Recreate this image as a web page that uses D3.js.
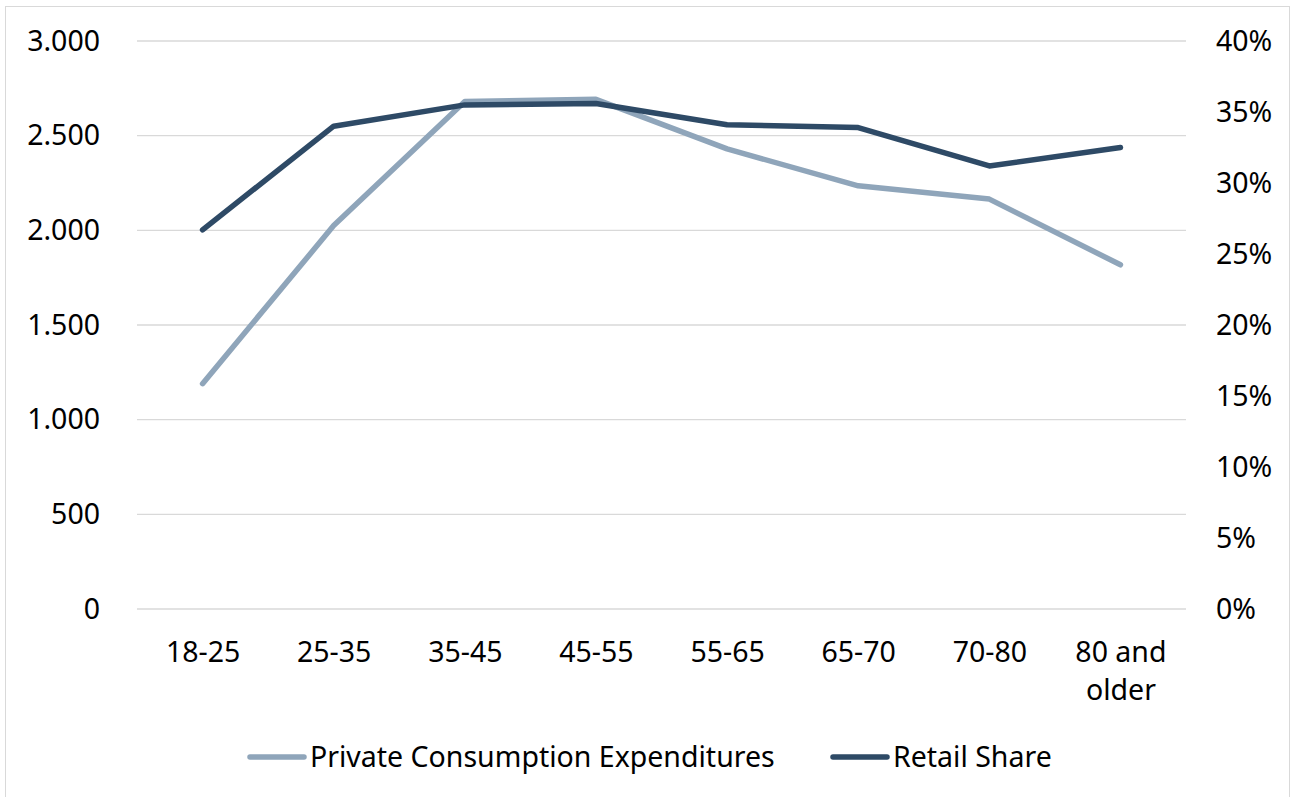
<!DOCTYPE html>
<html>
<head>
<meta charset="utf-8">
<script src="https://cdn.jsdelivr.net/npm/d3@7"></script>
<style>
  body { margin: 0; background: #fff; }
  svg { font-family: "Noto Sans", "Open Sans", sans-serif; }
</style>
</head>
<body>
<div id="chart"></div>
<script>
// Donnees du graphique
const ageGroups = ["18-25", "25-35", "35-45", "45-55", "55-65", "65-70", "70-80", "80 and older"];
const consumption = [1190, 2025, 2680, 2692, 2430, 2235, 2165, 1818];
const retailShare = [0.267, 0.340, 0.355, 0.356, 0.341, 0.339, 0.312, 0.325];
const leftTicks = [0, 500, 1000, 1500, 2000, 2500, 3000];
const rightTicks = [0, 0.05, 0.10, 0.15, 0.20, 0.25, 0.30, 0.35, 0.40];
const seriesNames = ["Private Consumption Expenditures", "Retail Share"];

const width = 1292;
const height = 797;
const colors = ["#8FA5BA", "#2E4A66"];
const fontSize = 28.5;

const svg = d3.select("#chart")
  .append("svg")
  .attr("width", width)
  .attr("height", height);

// Cadre
svg.append("rect")
  .attr("x", 5.5).attr("y", 6.5)
  .attr("width", 1284).attr("height", 800)
  .attr("fill", "none")
  .attr("stroke", "#d9d9d9");

const plotLeft = 137, plotRight = 1186;

const x = d3.scalePoint()
  .domain(ageGroups)
  .range([plotLeft, plotRight])
  .padding(0.5);

const yLeft = d3.scaleLinear().domain([0, 3000]).range([609, 41]);
const yRight = d3.scaleLinear().domain([0, 0.40]).range([609, 41]);

// Grille
svg.append("g")
  .selectAll("line")
  .data(leftTicks)
  .join("line")
  .attr("x1", plotLeft).attr("x2", plotRight)
  .attr("y1", d => yLeft(d)).attr("y2", d => yLeft(d))
  .attr("stroke", "#d9d9d9")
  .attr("stroke-width", 1.3);

// Axe gauche
const fmtLeft = d => d3.format(",")(d).replace(/,/g, ".");
svg.append("g")
  .attr("transform", "translate(100,0)")
  .call(d3.axisLeft(yLeft).tickValues(leftTicks).tickFormat(fmtLeft).tickSize(0).tickPadding(0))
  .call(g => g.select(".domain").remove())
  .selectAll("text")
  .attr("font-size", fontSize)
  .attr("font-family", "Noto Sans")
  .attr("fill", "#000");

// Axe droit
svg.append("g")
  .attr("transform", "translate(1216,0)")
  .call(d3.axisRight(yRight).tickValues(rightTicks).tickFormat(d3.format(".0%")).tickSize(0).tickPadding(0))
  .call(g => g.select(".domain").remove())
  .selectAll("text")
  .attr("font-size", fontSize)
  .attr("font-family", "Noto Sans")
  .attr("fill", "#000");

// Axe des categories
const xAxis = svg.append("g")
  .attr("transform", "translate(0,609)")
  .call(d3.axisBottom(x).tickSize(0).tickFormat(""))
  .call(g => g.select(".domain").remove());

xAxis.selectAll(".tick")
  .append("text")
  .attr("fill", "#000")
  .attr("font-size", fontSize)
  .attr("font-family", "Noto Sans")
  .attr("text-anchor", "middle")
  .each(function (d) {
    const words = d === "80 and older" ? ["80 and", "older"] : [d];
    d3.select(this).selectAll("tspan")
      .data(words)
      .join("tspan")
      .attr("x", 0)
      .attr("y", (w, i) => 53 + i * 38)
      .text(w => w);
  });

// Lignes
const lineLeft = d3.line()
  .x((d, i) => x(ageGroups[i]))
  .y(d => yLeft(d));

const lineRight = d3.line()
  .x((d, i) => x(ageGroups[i]))
  .y(d => yRight(d));

svg.append("path")
  .datum(consumption)
  .attr("d", lineLeft)
  .attr("fill", "none")
  .attr("stroke", colors[0])
  .attr("stroke-width", 5.5)
  .attr("stroke-linecap", "round")
  .attr("stroke-linejoin", "round");

svg.append("path")
  .datum(retailShare)
  .attr("d", lineRight)
  .attr("fill", "none")
  .attr("stroke", colors[1])
  .attr("stroke-width", 5.5)
  .attr("stroke-linecap", "round")
  .attr("stroke-linejoin", "round");

// Legende
const legendItems = [
  { name: seriesNames[0], color: colors[0], x: 250 },
  { name: seriesNames[1], color: colors[1], x: 833 }
];

const legend = svg.append("g")
  .selectAll("g")
  .data(legendItems)
  .join("g")
  .attr("transform", d => `translate(${d.x},757)`);

legend.append("line")
  .attr("x1", 0).attr("x2", 54)
  .attr("stroke", d => d.color)
  .attr("stroke-width", 5.5)
  .attr("stroke-linecap", "round");

legend.append("text")
  .attr("x", 60)
  .attr("dy", "0.35em")
  .attr("font-size", fontSize)
  .attr("fill", "#000")
  .text(d => d.name);
</script>
</body>
</html>
